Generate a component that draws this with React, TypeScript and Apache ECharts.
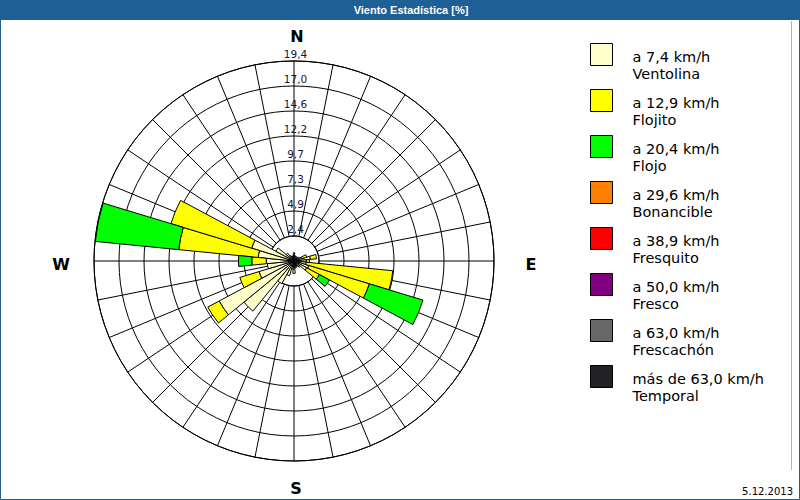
import React, { useEffect, useRef } from "react";
import * as echarts from "echarts";

// 32 compass directions, clockwise from North
const directions = [
  "N", "NbE", "NNE", "NEbN", "NE", "NEbE", "ENE", "EbN",
  "E", "EbS", "ESE", "SEbE", "SE", "SEbS", "SSE", "SbE",
  "S", "SbW", "SSW", "SWbS", "SW", "SWbW", "WSW", "WbS",
  "W", "WbN", "WNW", "NWbW", "NW", "NWbN", "NNW", "NbW",
];

// frequency [%] per direction, per speed class
const ventolina = [
  0.8, 0.5, 0.5, 0.4, 0.5, 0.6, 0.8, 1.6,
  1.2, 1.2, 1.5, 1.4, 0.8, 0.6, 0.6, 0.7,
  1.2, 0.8, 1.5, 2.5, 6.3, 8.25, 3.55, 2.6,
  2.7, 3.5, 4.3, 2.0, 1.0, 0.6, 0.5, 0.5,
];
const flojito = [
  0, 0, 0, 0, 0, 0, 0.5, 0.6,
  0.3, 8.45, 6.15, 1.4, 0, 0, 0, 0,
  0, 0, 0, 0, 0, 1.25, 1.95, 0,
  1.4, 7.75, 8.2, 0, 0, 0, 0, 0,
];
const flojo = [
  0, 0, 0, 0, 0, 0, 0, 0,
  0, 0, 5.45, 1.1, 0, 0, 0, 0,
  0, 0, 0, 0, 0, 0, 0, 0,
  1.3, 8.15, 0, 0, 0, 0, 0, 0,
];
const bonancible: number[] = [];
const fresquito: number[] = [];
const fresco: number[] = [];
const frescachon: number[] = [];
const temporal: number[] = [];

const classNames = ["Ventolina", "Flojito", "Flojo", "Bonancible", "Fresquito", "Fresco", "Frescachón", "Temporal"];
const speedLabels = ["a 7,4 km/h", "a 12,9 km/h", "a 20,4 km/h", "a 29,6 km/h", "a 38,9 km/h", "a 50,0 km/h", "a 63,0 km/h", "más de 63,0 km/h"];
const classColors = ["#FFFFCC", "#FFFF00", "#00FF00", "#FF8000", "#FF0000", "#800080", "#686868", "#222226"];
const classData = [ventolina, flojito, flojo, bonancible, fresquito, fresco, frescachon, temporal];

// radial rings
const ringStep = 2.43;
const ringMax = 19.44;
const ringLabels = ["2,4", "4,9", "7,3", "9,7", "12,2", "14,6", "17,0", "19,4"];

const title = "Viento Estadística [%]";
const dateText = "5.12.2013";

export default function App() {
  const ref = useRef<HTMLDivElement>(null);
  useEffect(() => {
    if (!ref.current) return;
    const chart = echarts.init(ref.current, undefined, { renderer: "svg" });
    const cx = 294;
    const cy = 261;
    const R = 200;
    const inner = (R * ringStep) / ringMax;
    const blue = "#1e6096";
    const compassFont = { fontFamily: "DejaVu Sans", fontWeight: "bold", fontSize: 16, fill: "#000" } as any;

    const series = classNames.map((name, i) => ({
      name,
      type: "bar",
      coordinateSystem: "polar",
      polarIndex: 1,
      stack: "wind",
      barCategoryGap: "0%",
      data: classData[i].map((v) => (v > 0 ? v : "-")),
      itemStyle: { color: classColors[i], borderColor: "#000", borderWidth: 1 },
      emphasis: { disabled: true },
      z: 3,
    }));

    chart.setOption({
      animation: false,
      backgroundColor: "#fff",
      polar: [
        { center: [cx, cy], radius: [inner, R] },
        { center: [cx, cy], radius: R },
      ],
      angleAxis: [
        {
          polarIndex: 0,
          type: "value",
          min: 0,
          max: 360,
          interval: 11.25,
          startAngle: 90,
          clockwise: true,
          axisLine: { show: true, lineStyle: { color: "#000", width: 1 } },
          axisTick: { show: false },
          axisLabel: { show: false },
          splitLine: { show: true, lineStyle: { color: "#000", width: 1 } },
        },
        {
          polarIndex: 1,
          type: "category",
          data: directions,
          boundaryGap: false,
          startAngle: 90,
          clockwise: true,
          axisLine: { show: false },
          axisTick: { show: false },
          axisLabel: { show: false },
          splitLine: { show: false },
        },
      ],
      radiusAxis: [
        {
          polarIndex: 0,
          type: "value",
          min: ringStep,
          max: ringMax,
          interval: ringStep,
          axisLine: { show: false },
          axisTick: { show: false },
          splitLine: { show: true, lineStyle: { color: "#000", width: 1 } },
          axisLabel: {
            show: true,
            margin: 0,
            align: "center",
            verticalAlign: "bottom",
            padding: [0, 0, 2, 3],
            fontFamily: "DejaVu Sans",
            fontSize: 10.5,
            color: "#141438",
            formatter: (_v: number, idx: number) => ringLabels[idx] ?? "",
          },
          z: 1,
        },
        {
          polarIndex: 1,
          type: "value",
          min: 0,
          max: ringMax,
          show: false,
          axisLine: { show: false },
          axisTick: { show: false },
          axisLabel: { show: false },
          splitLine: { show: false },
        },
      ],
      legend: {
        orient: "vertical",
        left: 590,
        top: 30,
        padding: 0,
        itemWidth: 22,
        itemHeight: 22,
        itemGap: -5,
        icon: "rect",
        selectedMode: false,
        data: classNames,
        itemStyle: { borderColor: "#000", borderWidth: 1 },
        formatter: (name: string) => `{s| }\n{t|${speedLabels[classNames.indexOf(name)]}}\n{t|${name}}`,
        textStyle: {
          fontFamily: "DejaVu Sans",
          fontSize: 14.5,
          color: "#000",
          padding: [0, 0, 0, 15],
          rich: {
            s: { lineHeight: 21, fontSize: 14.5, fontFamily: "DejaVu Sans" },
            t: { lineHeight: 17, fontSize: 14.5, fontFamily: "DejaVu Sans", color: "#000" },
          },
        },
      },
      graphic: [
        { type: "rect", shape: { x: 0, y: 0, width: 800, height: 20 }, style: { fill: blue }, z: 10 },
        {
          type: "text",
          x: 411,
          y: 10,
          style: {
            text: title,
            fill: "#fff",
            fontFamily: "Liberation Sans",
            fontWeight: "bold",
            fontSize: 11,
            align: "center",
            verticalAlign: "middle",
          },
          z: 11,
        },
        {
          type: "rect",
          shape: { x: 0.5, y: 0.5, width: 799, height: 499 },
          style: { fill: "none", stroke: blue, lineWidth: 1 },
          z: 10,
        },
        {
          type: "line",
          shape: { x1: 791.5, y1: 21, x2: 791.5, y2: 470 },
          style: { stroke: "#aab4c0", lineWidth: 1 },
          z: 10,
        },
        { type: "text", x: 297, y: 36, style: { ...compassFont, text: "N", align: "center", verticalAlign: "middle" } },
        { type: "text", x: 61, y: 264, style: { ...compassFont, text: "W", align: "center", verticalAlign: "middle" } },
        { type: "text", x: 531, y: 264, style: { ...compassFont, text: "E", align: "center", verticalAlign: "middle" } },
        { type: "text", x: 296, y: 488, style: { ...compassFont, text: "S", align: "center", verticalAlign: "middle" } },
        {
          type: "text",
          x: 793,
          y: 491,
          style: {
            text: dateText,
            fill: "#000",
            fontFamily: "DejaVu Sans",
            fontSize: 10,
            align: "right",
            verticalAlign: "middle",
          },
        },
      ],
      series,
    });
    return () => chart.dispose();
  }, []);
  return <div ref={ref} style={{ position: "absolute", left: 0, top: 0, width: 800, height: 500 }} />;
}
